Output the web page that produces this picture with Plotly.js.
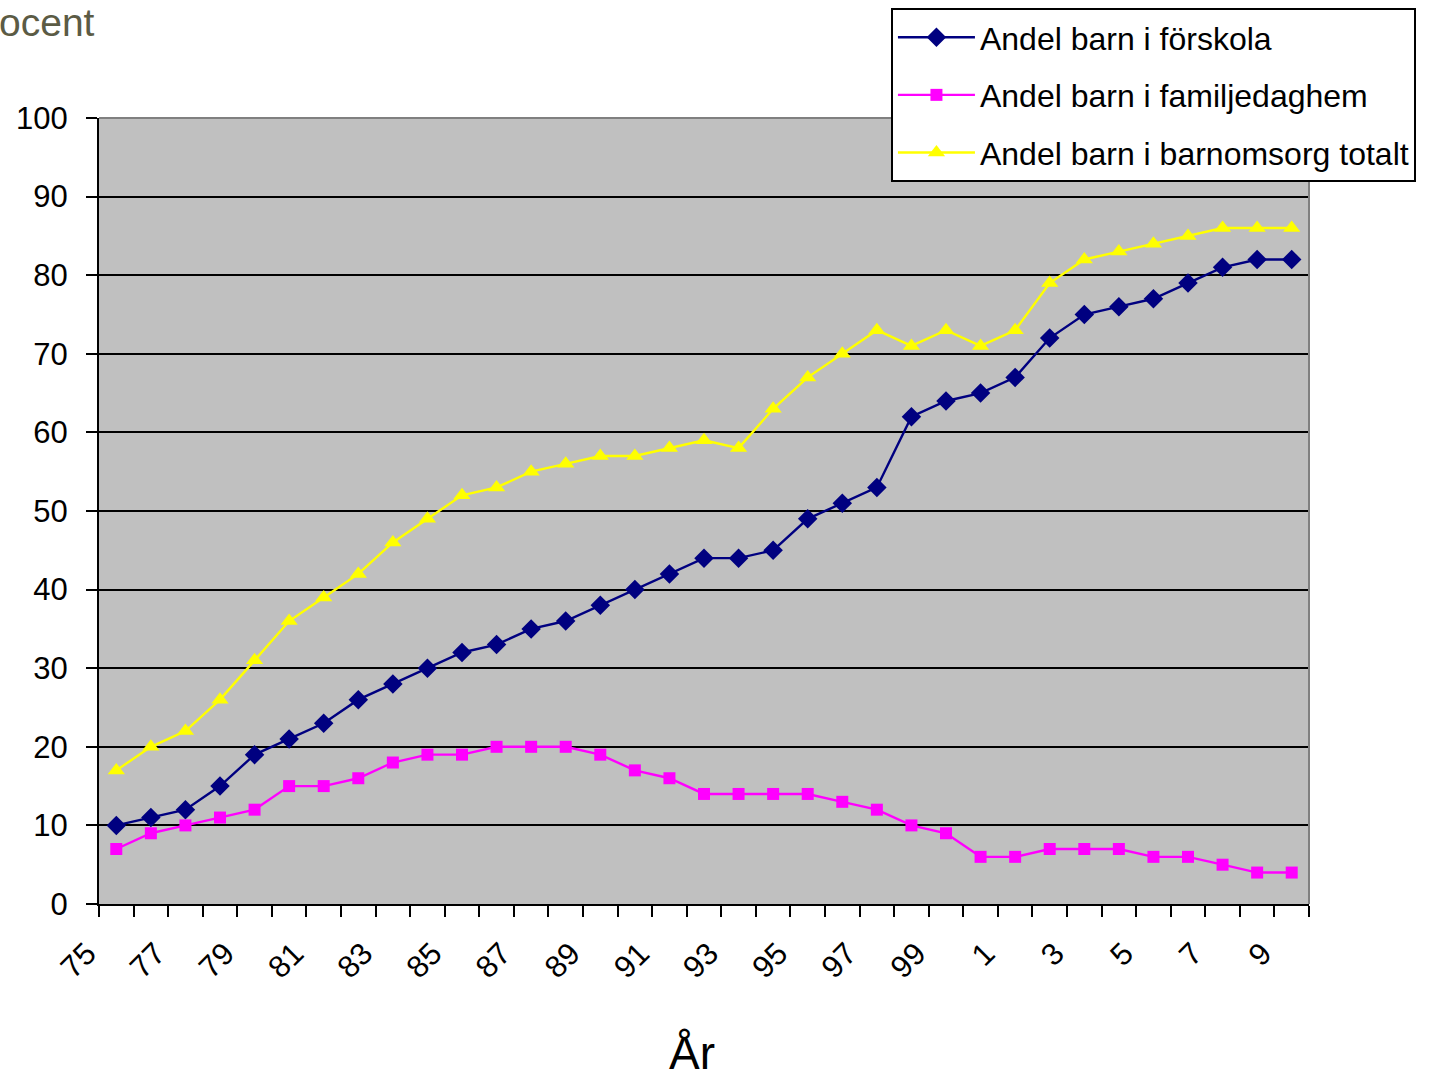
<!DOCTYPE html>
<html>
<head>
<meta charset="utf-8">
<script src="https://cdn.plot.ly/plotly-3.0.1.min.js"></script>
<style>html,body{margin:0;padding:0;background:#fff;}#chart{width:1441px;height:1071px;}</style>
</head>
<body>
<div id="chart"></div>
<script>
// Years 1975–2009 (labels as shown on the axis)
const years = ["75","76","77","78","79","80","81","82","83","84","85","86","87","88","89","90","91","92","93","94","95","96","97","98","99","0","1","2","3","4","5","6","7","8","9"];
const forskola = [10,11,12,15,19,21,23,26,28,30,32,33,35,36,38,40,42,44,44,45,49,51,53,62,64,65,67,72,75,76,77,79,81,82,82];
const familjedaghem = [7,9,10,11,12,15,15,16,18,19,19,20,20,20,19,17,16,14,14,14,14,13,12,10,9,6,6,7,7,7,6,6,5,4,4];
const totalt = [17,20,22,26,31,36,39,42,46,49,52,53,55,56,57,57,58,59,58,63,67,70,73,71,73,71,73,79,82,83,84,85,86,86,86];
const seriesNames = ["Andel barn i förskola","Andel barn i familjedaghem","Andel barn i barnomsorg totalt"];

const xIdx = years.map((_, i) => i);
// Tick marks at every category boundary; every other boundary carries the year label
const tickVals = [], tickText = [];
for (let i = 0; i <= years.length; i++) {
  tickVals.push(i - 0.5);
  tickText.push(i < years.length && i % 2 === 0 ? years[i] : "");
}

const FONT = "Liberation Sans, Arial, sans-serif";

const traces = [
  {x: xIdx, y: forskola, name: seriesNames[0], legendgroup: "a", mode: "lines+markers",
   line: {color: "#000080", width: 2.4}, marker: {symbol: "diamond", size: 15, color: "#000080"}},
  {x: xIdx, y: familjedaghem, name: seriesNames[1], legendgroup: "b", mode: "lines+markers",
   line: {color: "#FF00FF", width: 2.4}, marker: {symbol: "square", size: 12, color: "#FF00FF"}},
  {x: xIdx, y: totalt, name: seriesNames[2], legendgroup: "c", mode: "lines+markers",
   line: {color: "#FFFF00", width: 2.4}, marker: {symbol: "triangle-up", size: 15, color: "#FFFF00"}}
];

const layout = {
  width: 1441, height: 1071,
  margin: {l: 99, r: 132, t: 118, b: 167, pad: 0, autoexpand: false},
  paper_bgcolor: "#ffffff",
  plot_bgcolor: "#C0C0C0",
  font: {family: FONT, color: "#000000", size: 31},
  showlegend: true,
  legend: {
    x: 0.6545, y: 1.14, xanchor: "left", yanchor: "top",
    bgcolor: "#ffffff", bordercolor: "#000000", borderwidth: 2,
    font: {family: FONT, size: 32, color: "#000000"},
    itemwidth: 77,
    traceorder: "grouped", tracegroupgap: 13
  },
  xaxis: {
    range: [-0.5, 34.5], tickmode: "array", tickvals: tickVals, ticktext: tickText,
    tickangle: -45, ticks: "outside", ticklen: 11, tickwidth: 2, tickcolor: "#000000",
    ticklabelstandoff: 6, ticklabelshift: -12,
    showgrid: false, zeroline: false, showline: true, linecolor: "#000000", linewidth: 2,
    tickfont: {family: FONT, size: 31, color: "#000000"}, fixedrange: true
  },
  yaxis: {
    range: [0, 100], tickmode: "linear", tick0: 0, dtick: 10,
    ticks: "outside", ticklen: 11, tickwidth: 2, tickcolor: "#000000",
    showgrid: true, gridcolor: "#000000", gridwidth: 2, zeroline: false,
    showline: true, linecolor: "#000000", linewidth: 2,
    tickfont: {family: FONT, size: 31, color: "#000000"}, ticklabelstandoff: 12, fixedrange: true
  },
  shapes: [
    {type: "line", xref: "paper", yref: "paper", x0: 0, x1: 1, y0: 1, y1: 1, line: {color: "#808080", width: 2}, layer: "above"},
    {type: "line", xref: "paper", yref: "paper", x0: 1, x1: 1, y0: 0, y1: 1, line: {color: "#808080", width: 2}, layer: "above"}
  ],
  annotations: [
    {text: "Procent", xref: "paper", yref: "paper", x: -0.1165, y: 1.122, xanchor: "left", yanchor: "middle",
     showarrow: false, font: {family: FONT, size: 39, color: "#5B5B45"}},
    {text: "År", xref: "paper", yref: "paper", x: 0.490, y: -0.155, xanchor: "center", yanchor: "top",
     showarrow: false, borderpad: 0, font: {family: FONT, size: 46, color: "#000000"}}
  ]
};

Plotly.newPlot("chart", traces, layout, {displayModeBar: false, staticPlot: true});
</script>
</body>
</html>
